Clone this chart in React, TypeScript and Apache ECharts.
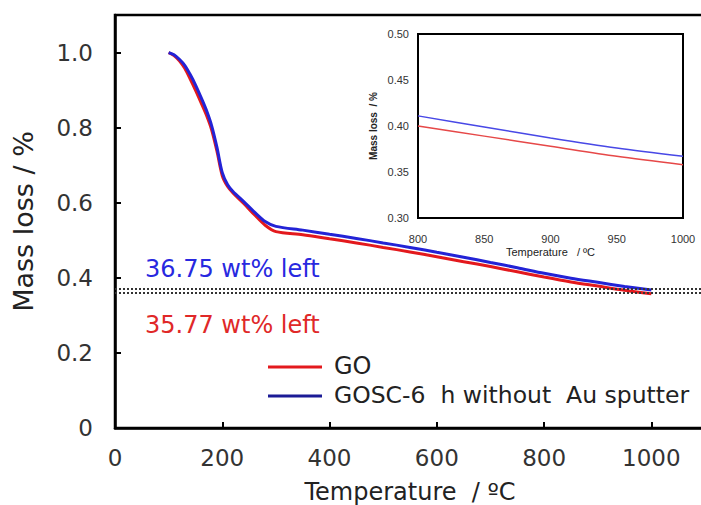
import React, { useEffect, useRef } from "react";
import * as echarts from "echarts";

// Main TGA curves (temperature in °C, normalised mass)
const temps = [100, 110, 120, 130, 140, 150, 160, 170, 180, 190, 200, 210, 220, 240, 260, 280, 300, 350, 400, 450, 500, 550, 600, 650, 700, 750, 800, 850, 900, 950, 1000];
const goMass = [1.0, 0.992, 0.978, 0.958, 0.93, 0.9, 0.868, 0.835, 0.795, 0.738, 0.672, 0.643, 0.626, 0.598, 0.568, 0.54, 0.523, 0.515, 0.504, 0.493, 0.481, 0.469, 0.456, 0.443, 0.43, 0.416, 0.402, 0.389, 0.378, 0.367, 0.3577];
const goscMass = [1.0, 0.994, 0.982, 0.966, 0.942, 0.914, 0.882, 0.848, 0.806, 0.748, 0.68, 0.648, 0.63, 0.603, 0.575, 0.55, 0.537, 0.527, 0.516, 0.505, 0.493, 0.481, 0.468, 0.455, 0.441, 0.427, 0.412, 0.399, 0.388, 0.377, 0.3675];

// Inset (800–1000 °C)
const insetTemps = [800, 850, 900, 950, 1000];
const insetGO = [0.4, 0.389, 0.378, 0.367, 0.358];
const insetGOSC = [0.411, 0.399, 0.387, 0.376, 0.367];

// Residual mass levels
const residualGOSC = 0.3675;
const residualGO = 0.3577;

const seriesNames = ["GO", "GOSC-6  h without  Au sputter"];
const annotationTexts = ["36.75 wt% left", "35.77 wt% left"];

const RED = "#e3191d";
const BLUE = "#2323d6";
const NAVY = "#1b1b96";
const FONT = "DejaVu Sans";

const zip = (xs: number[], ys: number[]) => xs.map((x, i) => [x, ys[i]]);

export default function App() {
  const ref = useRef<HTMLDivElement>(null);
  useEffect(() => {
    if (!ref.current) return;
    const chart = echarts.init(ref.current, null, { renderer: "svg" });
    chart.setOption({
      animation: false,
      backgroundColor: "#fff",
      textStyle: { fontFamily: FONT },
      grid: [
        { left: 115, top: 15, right: -4, bottom: 77, outerBoundsMode: "none", containLabel: false, show: true, borderColor: "#000", borderWidth: 2.5, backgroundColor: "transparent" },
        { left: 418, top: 34, right: 18, bottom: 287, outerBoundsMode: "none", containLabel: false, show: true, borderColor: "#000", borderWidth: 2, backgroundColor: "#fff", z: 5 },
      ],
      xAxis: [
        {
          gridIndex: 0, type: "value", min: 0, max: 1100, interval: 200,
          name: "Temperature  / ºC", nameLocation: "middle", nameGap: 52,
          nameTextStyle: { fontSize: 24, color: "#222", fontFamily: FONT },
          axisLine: { lineStyle: { color: "#000", width: 2.5 } },
          axisTick: { inside: true, length: 6, lineStyle: { color: "#000", width: 2 } },
          axisLabel: { fontSize: 23, color: "#333", margin: 18, fontFamily: FONT, showMaxLabel: false, formatter: (v: number) => String(v) },
          splitLine: { show: false },
        },
        {
          gridIndex: 1, type: "value", min: 800, max: 1000, interval: 50,
          name: "Temperature   / ºC", nameLocation: "middle", nameGap: 28,
          nameTextStyle: { fontSize: 11, color: "#222", fontFamily: "Liberation Sans" },
          axisLine: { lineStyle: { color: "#000", width: 2 } },
          axisTick: { inside: true, length: 3, lineStyle: { color: "#000", width: 2 } },
          axisLabel: { fontSize: 11, color: "#333", margin: 15, fontFamily: "Liberation Sans", formatter: (v: number) => String(v) },
          splitLine: { show: false },
        },
      ],
      yAxis: [
        {
          gridIndex: 0, type: "value", min: 0, max: 1.1, interval: 0.2,
          name: "Mass loss / %", nameLocation: "middle", nameGap: 78,
          nameTextStyle: { fontSize: 27, color: "#222", fontFamily: FONT },
          axisLine: { lineStyle: { color: "#000", width: 2.5 } },
          axisTick: { inside: true, length: 6, lineStyle: { color: "#000", width: 2 } },
          axisLabel: {
            fontSize: 23, color: "#333", margin: 22, fontFamily: FONT, showMaxLabel: false,
            formatter: (v: number) => (v === 0 ? "0" : v.toFixed(1)),
          },
          splitLine: { show: false },
        },
        {
          gridIndex: 1, type: "value", min: 0.3, max: 0.5, interval: 0.05,
          name: "Mass loss  / %", nameLocation: "middle", nameGap: 40,
          nameTextStyle: { fontSize: 10, color: "#222", fontFamily: "Liberation Sans", fontWeight: "bold" },
          axisLine: { lineStyle: { color: "#000", width: 2 } },
          axisTick: { inside: true, length: 3, lineStyle: { color: "#000", width: 2 } },
          axisLabel: { fontSize: 11, color: "#333", margin: 9, fontFamily: "Liberation Sans", formatter: (v: number) => v.toFixed(2) },
          splitLine: { show: false },
        },
      ],
      series: [
        {
          name: seriesNames[0], type: "line", xAxisIndex: 0, yAxisIndex: 0,
          data: zip(temps, goMass), showSymbol: false, smooth: 0.3,
          lineStyle: { color: RED, width: 3 }, z: 3,
          markLine: {
            silent: true, symbol: "none", label: { show: false },
            lineStyle: { color: "#333", width: 2, type: [2, 2] },
            data: [{ yAxis: residualGOSC }, { yAxis: residualGO }],
          },
        },
        {
          name: seriesNames[1], type: "line", xAxisIndex: 0, yAxisIndex: 0,
          data: zip(temps, goscMass), showSymbol: false, smooth: 0.3,
          lineStyle: { color: BLUE, width: 3 }, z: 4,
        },
        {
          name: "inset GO", type: "line", xAxisIndex: 1, yAxisIndex: 1,
          data: zip(insetTemps, insetGO), showSymbol: false, smooth: 0.3,
          lineStyle: { color: "#e64848", width: 1.5 }, z: 6,
        },
        {
          name: "inset GOSC", type: "line", xAxisIndex: 1, yAxisIndex: 1,
          data: zip(insetTemps, insetGOSC), showSymbol: false, smooth: 0.3,
          lineStyle: { color: "#4848e6", width: 1.5 }, z: 6,
        },
      ],
      graphic: [
        { type: "text", left: 145, top: 257, style: { text: annotationTexts[0], fill: "#2828e0", fontSize: 24, fontFamily: FONT } },
        { type: "text", left: 145, top: 313, style: { text: annotationTexts[1], fill: "#e02828", fontSize: 24, fontFamily: FONT } },
        { type: "line", shape: { x1: 268, y1: 367, x2: 322, y2: 367 }, style: { stroke: RED, lineWidth: 3 } },
        { type: "text", left: 334, top: 354, style: { text: seriesNames[0], fill: "#222", fontSize: 24, fontFamily: FONT } },
        { type: "line", shape: { x1: 268, y1: 396, x2: 322, y2: 396 }, style: { stroke: NAVY, lineWidth: 3 } },
        { type: "text", left: 334, top: 383, style: { text: seriesNames[1], fill: "#222", fontSize: 23.5, fontFamily: FONT } },
      ],
    });
    return () => chart.dispose();
  }, []);
  return <div ref={ref} style={{ position: "fixed", left: 0, top: 0, width: 701, height: 505 }} />;
}
